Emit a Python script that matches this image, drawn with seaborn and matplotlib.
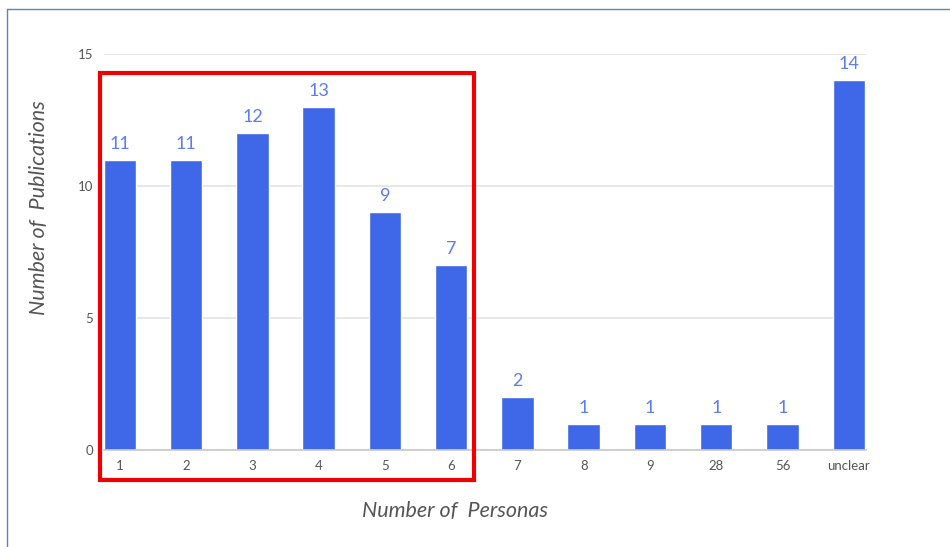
import matplotlib
matplotlib.use("Agg")
import matplotlib.pyplot as plt
import seaborn as sns
import pandas as pd
from matplotlib.patches import Rectangle
from matplotlib.lines import Line2D

categories = ["1", "2", "3", "4", "5", "6", "7", "8", "9", "28", "56", "unclear"]
publications = [11, 11, 12, 13, 9, 7, 2, 1, 1, 1, 1, 14]
y_ticks = [0, 5, 10, 15]

df = pd.DataFrame({"personas": categories, "pubs": publications})

sns.set_theme(style="white")
plt.rcParams["font.family"] = ["Lato", "DejaVu Sans"]

W, H = 950, 547
fig = plt.figure(figsize=(W / 100, H / 100), dpi=100)
ax = fig.add_axes([104 / W, 1 - 450 / H, (866 - 104) / W, (450 - 54) / H])

bar_color = "#3F68E8"
sns.barplot(data=df, x="personas", y="pubs", color=bar_color, width=0.49,
            saturation=1, ax=ax, order=categories)

ax.set_xlim(-0.24, 11.26)
ax.set_ylim(0, 15)
ax.set_yticks(y_ticks)
ax.yaxis.grid(True, color="#e3e3e3", linewidth=1.2)
ax.set_axisbelow(True)
for s in ["top", "right", "left"]:
    ax.spines[s].set_visible(False)
ax.spines["bottom"].set_color("#c8c8c8")
ax.spines["bottom"].set_linewidth(1.2)
ax.tick_params(axis="both", length=0, labelsize=9.5, colors="#555555")
ax.tick_params(axis="x", pad=7)
ax.tick_params(axis="y", pad=8)

for i, v in enumerate(publications):
    ax.text(i, v + 0.3, str(v), ha="center", va="bottom", fontsize=13,
            color="#5B7CF2")

ax.set_xlabel("Number of  Personas", fontsize=15.5, color="#555555",
              style="italic")
ax.set_ylabel("Number of  Publications", fontsize=15.5, color="#555555",
              style="italic")
ax.xaxis.set_label_coords(0.461, -0.128)
ax.yaxis.set_label_coords(-0.072, 0.611)

# highlight rectangle
fig.add_artist(Rectangle((100 / W, 1 - 480 / H), (474 - 100) / W, (480 - 73) / H,
                         transform=fig.transFigure, fill=False,
                         edgecolor="#EE0000", linewidth=3))
# outer frame lines
fig.add_artist(Line2D([7 / W, 7 / W], [0, 1 - 9 / H], transform=fig.transFigure,
                      color="#5B84C8", linewidth=1))
fig.add_artist(Line2D([7 / W, 1], [1 - 9 / H, 1 - 9 / H], transform=fig.transFigure,
                      color="#5B84C8", linewidth=1))

fig.savefig("out.png", dpi=100, facecolor="white")
